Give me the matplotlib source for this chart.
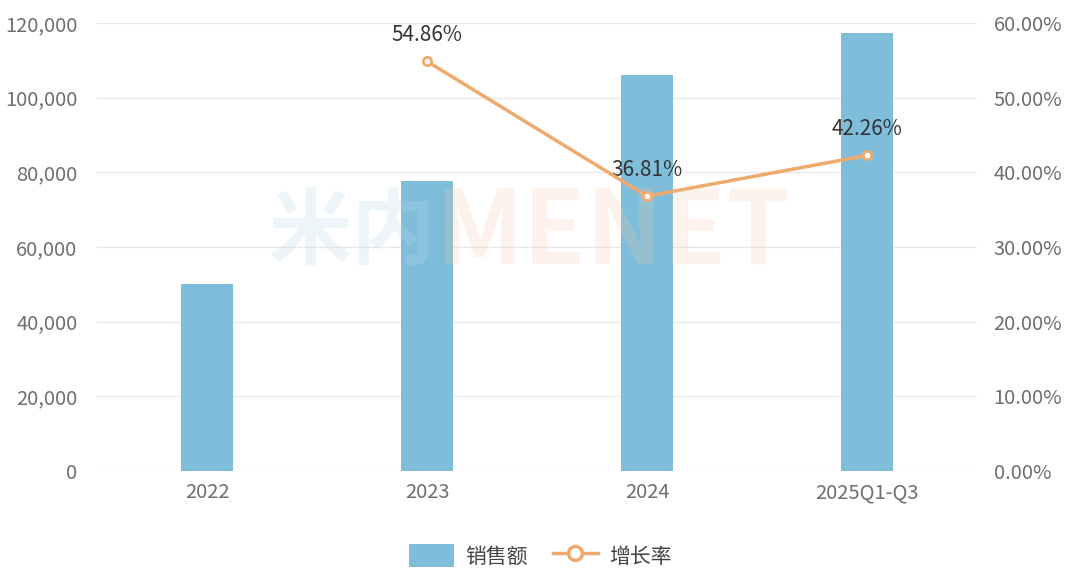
import numpy as np
import matplotlib.pyplot as plt
from matplotlib.lines import Line2D
from matplotlib.patches import Patch

plt.rcParams['font.family'] = ['Noto Sans CJK SC', 'DejaVu Sans']

categories = ['2022', '2023', '2024', '2025Q1-Q3']
sales = [50100, 77700, 106100, 117300]
growth_x = [1, 2, 3]
growth = [54.86, 36.81, 42.26]

bar_color = '#7FBEDB'
line_color = '#EFAA6E'
tick_color = '#6E6E6E'

fig = plt.figure(figsize=(10.8, 5.76), dpi=100)
ax = fig.add_axes([0.0898, 0.1823, 0.8148, 0.7778])
ax2 = ax.twinx()

x = np.arange(len(categories))
ax.bar(x, sales, width=0.24, color=bar_color, zorder=3)
ax.set_xlim(-0.5, len(categories) - 0.5)
ax.set_ylim(0, 120000)
ax.set_yticks(np.arange(0, 120001, 20000))
ax.set_yticklabels([f'{v:,}' for v in range(0, 120001, 20000)])
ax.set_xticks(x)
ax.set_xticklabels(categories)
ax.grid(axis='y', color='#E8E8E8', linewidth=1, zorder=0)
ax.set_axisbelow(True)

ax2.plot(growth_x, growth, color=line_color, linewidth=2.5, marker='o',
         markersize=6, markerfacecolor='white', markeredgecolor=line_color,
         markeredgewidth=2, zorder=5)
for xi, g in zip(growth_x, growth):
    ax2.annotate(f'{g:.2f}%', (xi, g), xytext=(0, 11), textcoords='offset points',
                 ha='center', va='bottom', fontsize=15, color='#333333')
ax2.set_ylim(0, 60)
ax2.set_yticks(np.arange(0, 61, 10))
ax2.set_yticklabels([f'{v:.2f}%' for v in range(0, 61, 10)])

for a in (ax, ax2):
    for s in a.spines.values():
        s.set_visible(False)
    a.tick_params(length=0, labelsize=14.5, colors=tick_color)
ax.tick_params(axis='y', pad=14)
ax.tick_params(axis='x', pad=8)
ax2.tick_params(axis='y', pad=12)

# watermark
fig.text(0.403, 0.595, '米内', fontsize=60, fontweight='bold', color='#B9D9E6',
         alpha=0.25, ha='right', va='center')
fig.text(0.403, 0.595, 'MENET', fontsize=74, fontweight='bold', color='#F6C7A0',
         alpha=0.2, ha='left', va='center')

handles = [Patch(facecolor=bar_color, edgecolor='none'),
           Line2D([0], [0], color=line_color, linewidth=2.5, marker='o', markersize=10,
                  markerfacecolor='white', markeredgecolor=line_color, markeredgewidth=2.5)]
fig.legend(handles, ['销售额', '增长率'], loc='center', bbox_to_anchor=(0.5, 0.035),
           ncol=2, frameon=False, fontsize=15, handlelength=2.2, handleheight=1.3,
           handletextpad=0.5, columnspacing=1.2, labelcolor='#444444')

fig.savefig('out.png', dpi=100)
